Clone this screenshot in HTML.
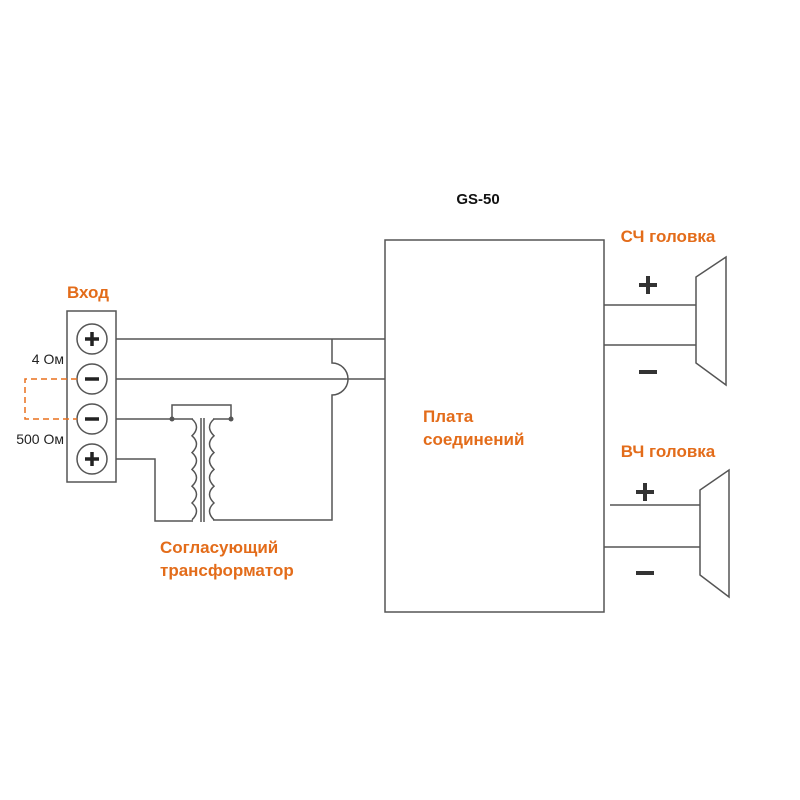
<!DOCTYPE html>
<html><head><meta charset="utf-8"><style>
html,body{margin:0;padding:0;background:#fff}
svg{display:block}
.o{fill:#e36c1a;font-family:"Liberation Sans",sans-serif;font-weight:bold;font-size:17px}
.k{fill:#222;font-family:"Liberation Sans",sans-serif;font-size:14px}
</style></head><body>
<svg width="800" height="800" viewBox="0 0 800 800">
<g stroke="#555" stroke-width="1.5" fill="none">
<rect x="385" y="240" width="219" height="372"/>
<rect x="67" y="311" width="49" height="171"/>
<circle cx="92" cy="339" r="15"/><circle cx="92" cy="379" r="15"/>
<circle cx="92" cy="419" r="15"/><circle cx="92" cy="459" r="15"/>
<path d="M116 339H385M116 379H385"/>
<path d="M332 339V363A16 16 0 0 1 332 395V520H213"/>
<path d="M116 419H193M172 419V405H231V419H213"/>
<path d="M116 459H155V521H193"/>
<path d="M192 419 q9 8 0 16.8 q9 8 0 16.8 q9 8 0 16.8 q9 8 0 16.8 q9 8 0 16.8 q9 8 0 16.8"/>
<path d="M214 419 q-9 8 0 16.8 q-9 8 0 16.8 q-9 8 0 16.8 q-9 8 0 16.8 q-9 8 0 16.8 q-9 8 0 16.8"/>
<path d="M201 418V522M204 418V522"/>
<path d="M604 305H696M604 345H696M696 277V363L726 385V257Z"/>
<path d="M610 505H700M604 547H700M700 490V575L729 597V470Z"/>
</g>
<circle cx="172" cy="419" r="2.5" fill="#555"/><circle cx="231" cy="419" r="2.5" fill="#555"/>
<g stroke="#e8711e" stroke-width="1.5" fill="none" stroke-dasharray="6,4">
<path d="M77 379H25V419H77"/>
</g>
<g stroke="#222" stroke-width="3.5">
<path d="M85 339H99M92 332V346M85 379H99M85 419H99M85 459H99M92 452V466"/>
</g>
<g stroke="#333" stroke-width="4">
<path d="M639 285H657M648 276V294M639 372H657M636 492H654M645 483V501M636 573H654"/>
</g>
<text x="478" y="204" text-anchor="middle" font-family="Liberation Sans,sans-serif" font-weight="bold" font-size="15" fill="#111">GS-50</text>
<text x="668" y="242" text-anchor="middle" class="o">СЧ головка</text>
<text x="668" y="457" text-anchor="middle" class="o">ВЧ головка</text>
<text x="88" y="298" text-anchor="middle" class="o">Вход</text>
<text x="423" y="422" class="o">Плата</text>
<text x="423" y="445" class="o">соединений</text>
<text x="160" y="553" class="o">Согласующий</text>
<text x="160" y="576" class="o">трансформатор</text>
<text x="64" y="364" text-anchor="end" class="k">4 Ом</text>
<text x="64" y="444" text-anchor="end" class="k">500 Ом</text>
</svg>
</body></html>
